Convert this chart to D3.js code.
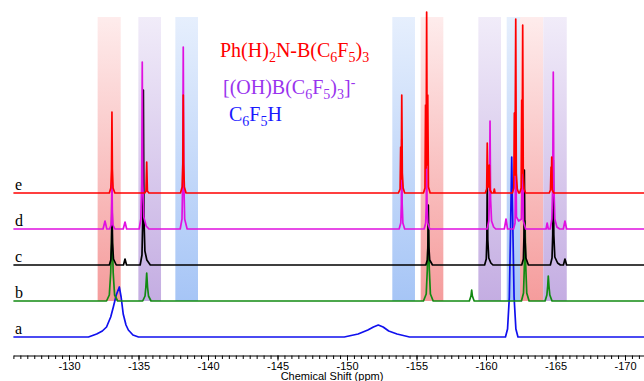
<!DOCTYPE html>
<html>
<head>
<meta charset="utf-8">
<script src="https://d3js.org/d3.v7.min.js"></script>
<style>
  body { margin: 0; background: #fff; }
  svg { display: block; }
</style>
</head>
<body>
<svg id="chart" width="644" height="381"></svg>
<script>
// trace order, bottom to top
const traceNames = ["a", "b", "c", "d", "e"];

// spectra as [ppm, intensity] vertices
const traceA = [[-126,0],
  [-131.4,0],[-131.99,3],[-132.4,6],[-132.7,10],[-133.0,20],[-133.19,30],[-133.4,42],[-133.62,50],[-133.75,40],[-133.9,23],[-134.1,12],[-134.27,7],[-134.6,2],[-135.0,0],
  [-149.8,0],[-150.8,3],[-151.5,7],[-151.9,10],[-152.25,12],[-152.6,10],[-153.0,6],[-153.6,3],[-154.5,0],
  [-161.4,0],[-161.55,8],[-161.68,40],[-161.77,110],[-161.85,180],[-161.93,110],[-162.02,40],[-162.15,8],[-162.3,0],
  [-171.5,0]];
const traceB = [[-126,0],
  [-132.7,0],[-132.9,6],[-133.0,28],[-133.09,76],[-133.18,28],[-133.28,6],[-133.5,0],
  [-135.3,0],[-135.47,5],[-135.53,14],[-135.59,28],[-135.65,14],[-135.72,5],[-135.9,0],
  [-155.5,0],[-155.7,7],[-155.78,32],[-155.85,78],[-155.92,32],[-156.0,7],[-156.2,0],
  [-158.8,0],[-158.92,5],[-158.97,11],[-159.02,5],[-159.15,0],
  [-162.55,0],[-162.7,8],[-162.76,35],[-162.81,80],[-162.86,35],[-162.93,8],[-163.1,0],
  [-164.25,0],[-164.38,6],[-164.44,15],[-164.48,25],[-164.53,15],[-164.59,6],[-164.75,0],
  [-171.5,0]];
const traceC = [[-126,0],
  [-132.9,0],[-133.01,5],[-133.06,22],[-133.09,75],[-133.13,22],[-133.2,6],[-133.4,0],
  [-133.92,0],[-134.03,6],[-134.14,0],
  [-135.12,0],[-135.25,10],[-135.31,48],[-135.35,175],[-135.39,48],[-135.46,14],[-135.6,5],[-135.85,0],
  [-155.67,0],[-155.78,5],[-155.82,18],[-155.85,60],[-155.89,18],[-155.95,5],[-156.15,0],
  [-159.9,0],[-160.02,6],[-160.06,25],[-160.09,85],[-160.13,25],[-160.2,7],[-160.35,2],[-160.5,0],
  [-162.57,0],[-162.69,6],[-162.73,28],[-162.76,95],[-162.8,28],[-162.87,7],[-163.05,0],
  [-164.63,0],[-164.75,7],[-164.8,30],[-164.84,105],[-164.88,30],[-164.95,8],[-165.15,2],[-165.35,0],
  [-165.57,0],[-165.68,6],[-165.8,0],
  [-171.5,0]];
const traceD = [[-126,0],
  [-132.45,0],[-132.59,8],[-132.72,0],
  [-132.92,0],[-133.03,4],[-133.06,16],[-133.09,55],[-133.12,16],[-133.16,4],[-133.3,0],
  [-133.9,0],[-134.03,7],[-134.15,0],
  [-135.05,0],[-135.17,10],[-135.23,45],[-135.27,167],[-135.31,45],[-135.38,12],[-135.55,3],[-135.75,0],
  [-138.0,0],[-138.13,10],[-138.18,50],[-138.22,182],[-138.26,50],[-138.32,10],[-138.5,0],
  [-153.75,0],[-153.87,6],[-153.91,25],[-153.94,90],[-153.97,25],[-154.02,6],[-154.15,0],
  [-155.55,0],[-155.66,6],[-155.7,22],[-155.73,80],[-155.76,22],[-155.81,6],[-155.95,0],
  [-160.08,0],[-160.2,8],[-160.25,30],[-160.29,108],[-160.33,30],[-160.4,8],[-160.55,2],[-160.7,0],
  [-161.32,0],[-161.44,10],[-161.55,0],
  [-161.98,0],[-162.09,6],[-162.14,100],[-162.19,12],[-162.35,8],[-162.55,10],[-162.64,100],[-162.69,8],[-162.85,0],
  [-164.32,0],[-164.4,6],[-164.48,0],
  [-164.62,0],[-164.74,10],[-164.8,45],[-164.84,157],[-164.88,45],[-164.95,10],[-165.1,2],[-165.3,0],
  [-165.56,0],[-165.68,8],[-165.8,0],
  [-171.5,0]];
const traceE = [[-126,0],
  [-132.9,0],[-133.01,5],[-133.06,24],[-133.09,81],[-133.12,24],[-133.17,5],[-133.3,0],
  [-135.45,0],[-135.54,2],[-135.59,31],[-135.64,2],[-135.75,0],
  [-138.02,0],[-138.14,6],[-138.19,29],[-138.22,98],[-138.25,29],[-138.3,6],[-138.42,0],
  [-153.7,0],[-153.82,4],[-153.86,46],[-153.9,14],[-153.94,98],[-153.98,20],[-154.04,5],[-154.15,0],
  [-155.5,0],[-155.61,5],[-155.65,88],[-155.69,25],[-155.73,181],[-155.77,28],[-155.81,98],[-155.86,6],[-155.98,0],
  [-159.95,0],[-160.05,4],[-160.09,50],[-160.14,6],[-160.2,6],[-160.24,28],[-160.29,3],[-160.4,0],
  [-160.55,0],[-160.6,4],[-160.65,0],
  [-161.9,0],[-162.0,5],[-162.04,80],[-162.08,18],[-162.14,174],[-162.18,20],[-162.25,4],[-162.35,0],
  [-162.42,0],[-162.53,5],[-162.57,93],[-162.6,20],[-162.64,168],[-162.68,20],[-162.74,4],[-162.85,0],
  [-164.55,0],[-164.64,3],[-164.68,26],[-164.7,10],[-164.73,36],[-164.77,3],[-164.88,0],
  [-171.5,0]];
const traces = {a: traceA, b: traceB, c: traceC, d: traceD, e: traceE};

// highlighted regions [from ppm, to ppm, kind]; later ones are drawn on top
const bands = [
  [-132.06, -133.72, "amine"],
  [-134.99, -136.62, "borate"],
  [-137.65, -139.28, "arene"],
  [-153.26, -154.89, "arene"],
  [-155.30, -156.93, "amine"],
  [-159.45, -161.08, "borate"],
  [-161.49, -163.17, "arene"],
  [-162.45, -164.12, "amine"],
  [-164.12, -165.81, "borate"]
];

const majorTicks = [-130, -135, -140, -145, -150, -155, -160, -165, -170];
const tickLabels = ["-130", "-135", "-140", "-145", "-150", "-155", "-160", "-165", "-170"];
const minorTicks = d3.range(-126, -171.6, -0.5);

// styles
const traceColors = {a: "#1010ee", b: "#128a12", c: "#000000", d: "#e010e0", e: "#ff0000"};
const bandColors = {
  amine:  ["#feecec", "#f59c9c"],
  borate: ["#f1ecf9", "#c4ade2"],
  arene:  ["#e6effd", "#a6c5f6"]
};

const svg = d3.select("#chart");

const x = d3.scaleLinear().domain([-126, -171.5]).range([13.4, 645.85]);
const base = d3.scalePoint().domain(traceNames).range([337, 193]);
const yInt = d3.scaleLinear().domain([0, 100]).range([0, -100]);

// band gradients
const defs = svg.append("defs");
Object.entries(bandColors).forEach(([k, c]) => {
  const g = defs.append("linearGradient")
    .attr("id", "grad-" + k)
    .attr("x1", 0).attr("y1", 0).attr("x2", 0).attr("y2", 1);
  g.append("stop").attr("offset", "0%").attr("stop-color", c[0]);
  g.append("stop").attr("offset", "100%").attr("stop-color", c[1]);
});

svg.append("g").selectAll("rect")
  .data(bands)
  .join("rect")
  .attr("x", d => x(d[0]))
  .attr("width", d => x(d[1]) - x(d[0]))
  .attr("y", 17)
  .attr("height", 284)
  .attr("fill", d => `url(#grad-${d[2]})`);

const line = d3.line()
  .x(d => x(d[0]))
  .y(d => yInt(d[1]));

traceNames.forEach(name => {
  svg.append("g")
    .attr("transform", `translate(0,${base(name)})`)
    .append("path")
    .attr("d", line(traces[name]))
    .attr("fill", "none")
    .attr("stroke", traceColors[name])
    .attr("stroke-width", 1.7)
    .attr("stroke-linejoin", "round");

  svg.append("text")
    .attr("x", 15)
    .attr("y", base(name) - 3)
    .attr("font-family", "'Liberation Serif', 'Times New Roman', serif")
    .attr("font-size", 16)
    .text(name);
});

// legend
const legend = svg.append("g")
  .attr("font-family", "'Liberation Serif', 'Times New Roman', serif")
  .attr("font-size", 20);

function formula(parts, xPos, yPos, color) {
  const t = legend.append("text").attr("x", xPos).attr("y", yPos).attr("fill", color);
  parts.forEach(p => {
    if (p.sub) {
      t.append("tspan").attr("font-size", 14).attr("baseline-shift", "-5").text(p.sub);
    } else if (p.sup) {
      t.append("tspan").attr("font-size", 14).attr("baseline-shift", "7").text(p.sup);
    } else {
      t.append("tspan").text(p.t);
    }
  });
}
formula([{t: "Ph(H)"}, {sub: "2"}, {t: "N-B(C"}, {sub: "6"}, {t: "F"}, {sub: "5"}, {t: ")"}, {sub: "3"}], 220, 57, "#ff0000");
formula([{t: "[(OH)B(C"}, {sub: "6"}, {t: "F"}, {sub: "5"}, {t: ")"}, {sub: "3"}, {t: "]"}, {sup: "-"}], 223, 94, "#9933ee");
formula([{t: "C"}, {sub: "6"}, {t: "F"}, {sub: "5"}, {t: "H"}], 229, 121, "#1a1aff");

// axis
const axisY = 355.5;
svg.append("g")
  .attr("transform", `translate(0,${axisY})`)
  .call(d3.axisBottom(x).tickValues(minorTicks).tickSize(3.5).tickSizeOuter(0).tickFormat(""))
  .call(g => g.select(".domain").attr("stroke-width", 1.2));

const major = svg.append("g")
  .attr("transform", `translate(0,${axisY})`)
  .call(d3.axisBottom(x).tickValues(majorTicks).tickSize(5).tickSizeOuter(0)
    .tickFormat((d, i) => tickLabels[i]));
major.select(".domain").remove();
major.selectAll("text")
  .attr("font-family", "'Liberation Sans', Arial, sans-serif")
  .attr("font-size", 11)
  .attr("fill", "#000")
  .attr("dy", "0.55em");

svg.append("text")
  .attr("x", 332)
  .attr("y", 380)
  .attr("text-anchor", "middle")
  .attr("font-family", "'Liberation Sans', Arial, sans-serif")
  .attr("font-size", 11)
  .text("Chemical Shift (ppm)");
</script>
</body>
</html>
